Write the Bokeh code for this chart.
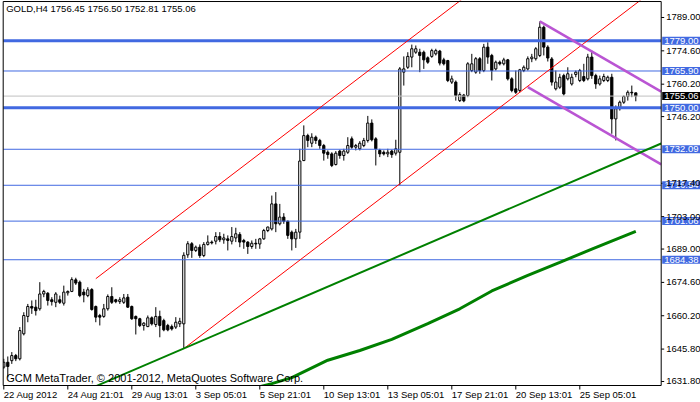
from math import pi
from bokeh.plotting import figure
from bokeh.models import Label, Range1d
from bokeh.core.properties import value
from bokeh.embed import file_html
from bokeh.resources import INLINE

# ---------------- data ----------------
opens = [1638.0, 1640.1, 1640.8, 1643.0, 1641.6, 1652.4, 1659.9, 1664.2, 1663.9, 1663.2,
         1669.6, 1669.9, 1667.1, 1666.0, 1667.1, 1665.6, 1670.1, 1670.7, 1675.7, 1674.7,
         1670.4, 1668.9, 1671.5, 1664.2, 1660.3, 1659.9, 1663.2, 1668.5, 1667.1, 1666.3,
         1666.0, 1668.2, 1664.2, 1659.9, 1658.9, 1656.0, 1655.5, 1659.3, 1656.4, 1659.9,
         1658.1, 1656.0, 1655.5, 1655.3, 1656.7, 1656.7, 1686.5, 1691.3, 1688.4, 1689.8,
         1686.2, 1691.0, 1692.0, 1692.4, 1694.4, 1693.0, 1693.4, 1692.4, 1693.8, 1695.3,
         1692.7, 1692.0, 1690.1, 1691.5, 1691.2, 1693.4, 1697.0, 1697.7, 1708.5, 1699.9,
         1702.8, 1701.0, 1696.3, 1693.4, 1696.3, 1727.2, 1738.0, 1734.7, 1737.3, 1735.9,
         1733.7, 1730.8, 1730.1, 1725.5, 1731.3, 1729.4, 1730.8, 1736.6, 1733.0, 1732.3,
         1733.7, 1735.9, 1743.4, 1736.6, 1731.6, 1730.8, 1730.1, 1731.3, 1730.4, 1730.8,
         1765.4, 1767.5, 1771.9, 1774.0, 1774.0, 1774.0, 1771.6, 1772.2, 1773.3, 1774.5,
         1770.7, 1770.4, 1761.1, 1761.1, 1753.1, 1755.5, 1755.3, 1766.1, 1765.4, 1771.2,
         1766.1, 1776.2, 1772.6, 1766.8, 1769.7, 1769.0, 1770.7, 1762.5, 1758.2, 1757.5,
         1766.1, 1766.8, 1771.2, 1771.2, 1772.6, 1784.8, 1776.2, 1771.1, 1758.2, 1758.9,
         1763.9, 1762.5, 1760.3, 1764.4, 1761.8, 1763.5, 1762.5, 1771.9, 1763.9, 1760.3,
         1761.8, 1761.8, 1763.2, 1745.2, 1749.6, 1752.4, 1754.9, 1756.7, 1756.45]
highs = [1641.6, 1642.6, 1644.5, 1643.7, 1655.3, 1661.7, 1665.3, 1666.8, 1667.1, 1674.7,
         1671.4, 1670.4, 1668.2, 1670.4, 1668.9, 1673.2, 1671.1, 1676.8, 1676.6, 1675.4,
         1671.8, 1672.5, 1672.1, 1664.6, 1661.0, 1665.3, 1669.4, 1672.5, 1667.5, 1668.2,
         1669.6, 1669.6, 1664.6, 1660.3, 1659.3, 1657.4, 1660.3, 1659.9, 1663.9, 1662.4,
         1658.9, 1656.7, 1656.4, 1659.6, 1659.3, 1687.6, 1692.4, 1692.0, 1690.5, 1691.0,
         1692.0, 1694.9, 1692.7, 1696.3, 1696.3, 1695.6, 1694.9, 1698.5, 1698.2, 1696.3,
         1693.4, 1692.4, 1692.7, 1693.4, 1693.8, 1697.7, 1698.7, 1712.1, 1713.6, 1708.5,
         1704.5, 1701.3, 1697.0, 1697.7, 1732.3, 1742.4, 1738.8, 1739.0, 1738.0, 1736.6,
         1734.4, 1731.6, 1730.8, 1731.3, 1731.9, 1732.3, 1737.3, 1737.6, 1734.4, 1735.6,
         1737.0, 1746.5, 1745.0, 1737.3, 1732.3, 1731.6, 1732.3, 1731.9, 1736.2, 1767.6,
         1772.2, 1774.0, 1777.3, 1776.9, 1775.5, 1774.7, 1772.2, 1775.5, 1775.5, 1775.0,
         1771.6, 1770.7, 1763.9, 1761.8, 1756.7, 1756.0, 1769.7, 1773.3, 1771.9, 1771.9,
         1777.6, 1778.3, 1773.3, 1770.4, 1770.4, 1771.6, 1771.1, 1763.2, 1766.1, 1766.8,
         1768.3, 1772.2, 1773.3, 1776.2, 1787.3, 1785.5, 1777.0, 1771.9, 1766.1, 1764.7,
         1764.7, 1767.5, 1764.7, 1766.1, 1766.8, 1769.0, 1773.3, 1774.7, 1764.7, 1763.9,
         1764.7, 1763.9, 1764.7, 1751.0, 1753.1, 1755.3, 1757.5, 1759.6, 1756.50]
lows = [1637.3, 1633.6, 1639.4, 1640.6, 1640.9, 1651.7, 1657.4, 1661.0, 1660.3, 1662.4,
        1668.2, 1664.6, 1664.6, 1663.9, 1665.3, 1664.6, 1668.9, 1670.4, 1673.5, 1668.2,
        1666.0, 1668.2, 1662.4, 1657.4, 1656.0, 1659.3, 1662.4, 1665.3, 1665.6, 1665.3,
        1665.3, 1663.6, 1658.4, 1652.1, 1655.3, 1653.8, 1655.3, 1656.0, 1655.3, 1650.9,
        1653.5, 1653.5, 1653.8, 1654.5, 1655.3, 1646.0, 1685.2, 1685.2, 1687.7, 1685.2,
        1685.5, 1690.5, 1691.0, 1691.0, 1692.0, 1691.3, 1688.4, 1691.0, 1692.0, 1689.8,
        1689.1, 1686.9, 1689.1, 1689.1, 1689.1, 1693.0, 1696.3, 1697.0, 1696.3, 1699.2,
        1699.9, 1693.4, 1688.4, 1689.5, 1693.4, 1727.0, 1733.0, 1733.0, 1734.4, 1732.3,
        1727.2, 1728.0, 1724.4, 1725.1, 1728.0, 1727.2, 1730.1, 1732.3, 1731.6, 1731.6,
        1733.0, 1735.0, 1735.5, 1725.1, 1728.7, 1729.4, 1728.7, 1728.4, 1729.4, 1716.6,
        1759.6, 1766.8, 1767.5, 1773.3, 1765.4, 1766.8, 1769.0, 1771.6, 1772.6, 1768.3,
        1768.3, 1761.1, 1760.3, 1753.1, 1752.5, 1752.4, 1754.6, 1765.4, 1764.7, 1764.7,
        1765.4, 1769.0, 1761.8, 1766.1, 1768.3, 1768.3, 1761.8, 1756.7, 1756.0, 1756.7,
        1765.4, 1766.1, 1769.7, 1770.4, 1771.9, 1772.6, 1770.0, 1759.6, 1757.5, 1758.2,
        1755.3, 1761.8, 1759.6, 1763.2, 1761.1, 1761.1, 1761.8, 1762.5, 1758.2, 1759.6,
        1761.1, 1761.1, 1738.8, 1735.9, 1748.8, 1751.7, 1753.1, 1754.6, 1752.81]
closes = [1640.1, 1638.3, 1643.0, 1641.6, 1653.8, 1660.3, 1664.2, 1663.5, 1662.4, 1669.6,
          1670.7, 1666.8, 1666.3, 1669.6, 1666.0, 1670.4, 1670.7, 1675.8, 1674.3, 1668.9,
          1669.2, 1671.4, 1662.9, 1659.6, 1659.6, 1663.2, 1668.5, 1666.0, 1666.3, 1667.1,
          1667.9, 1663.9, 1658.9, 1658.9, 1656.0, 1657.0, 1659.3, 1656.7, 1659.9, 1656.0,
          1654.1, 1654.1, 1654.5, 1657.4, 1657.8, 1686.3, 1691.3, 1688.4, 1689.8, 1686.2,
          1691.0, 1692.0, 1691.7, 1694.4, 1693.0, 1693.8, 1692.7, 1694.4, 1695.6, 1692.0,
          1692.0, 1690.1, 1691.5, 1691.2, 1693.4, 1697.0, 1698.5, 1708.5, 1699.9, 1702.8,
          1701.0, 1694.9, 1693.4, 1696.3, 1727.0, 1738.0, 1735.9, 1737.3, 1735.9, 1733.7,
          1730.4, 1729.8, 1725.1, 1730.4, 1729.4, 1731.3, 1733.7, 1733.0, 1733.7, 1734.7,
          1735.9, 1743.4, 1736.2, 1732.3, 1730.1, 1730.1, 1730.8, 1729.8, 1732.3, 1766.8,
          1766.8, 1772.2, 1775.5, 1775.5, 1772.6, 1770.7, 1769.7, 1774.7, 1774.7, 1769.3,
          1769.0, 1761.8, 1762.5, 1755.3, 1755.7, 1753.0, 1769.0, 1769.0, 1771.2, 1766.1,
          1776.2, 1771.9, 1766.1, 1769.7, 1769.0, 1770.7, 1762.5, 1757.5, 1756.7, 1766.4,
          1767.5, 1771.2, 1771.9, 1775.5, 1784.8, 1776.2, 1771.5, 1761.1, 1761.1, 1763.2,
          1756.0, 1764.7, 1763.2, 1765.4, 1766.1, 1761.8, 1771.9, 1763.9, 1760.3, 1762.5,
          1763.5, 1763.2, 1745.2, 1749.6, 1752.4, 1754.9, 1756.7, 1756.45, 1755.06]

time_tick_bars = [0, 16, 32, 48, 64, 80, 96, 112, 128, 144]
time_tick_labels = ["22 Aug 2012", "24 Aug 21:01", "29 Aug 13:01", "3 Sep 05:01", "5 Sep 21:01",
                    "10 Sep 13:01", "13 Sep 05:01", "17 Sep 21:01", "20 Sep 13:01", "25 Sep 05:01"]
price_ticks = [1789.00, 1774.60, 1760.20, 1746.20, 1717.40, 1703.00, 1689.00,
               1674.60, 1660.20, 1645.80, 1631.80]

levels_thick = [1779.00, 1750.00]
levels_thin = [1765.90, 1732.09, 1716.54, 1701.06, 1684.38]
bid_price = 1755.06

# moving average (thick green)
ma_bars = [64, 67, 72, 81, 89, 97, 106, 114, 122, 131, 139, 147, 158]
ma_values = [1629.6, 1630.9, 1633.5, 1641.0, 1645.2, 1650.0, 1656.8, 1663.2, 1670.9,
             1677.6, 1683.2, 1689.0, 1696.6]

# drawn objects: anchor bar / price, each ends at the price scale
trend_bars = [20, 164.35]
trend_prices = [1627.5, 1734.6]
red_upper_bars = [23, 164.35]
red_upper_prices = [1676.2, 1862.5]
red_lower_bars = [45, 164.35]
red_lower_prices = [1646.0, 1803.3]
purple_upper_bars = [134, 164.35]
purple_upper_prices = [1787.3, 1757.0]
purple_lower_bars = [131, 164.35]
purple_lower_prices = [1758.9, 1725.6]

title_text = "GOLD,H4  1756.45 1756.50 1752.81 1755.06"
copyright_text = "GCM MetaTrader, \u00a9 2001-2012, MetaQuotes Software Corp."

# ---------------- chart geometry (window = one frame) ----------------
FONT = "Liberation Sans"
XL, XR_AXIS = -0.15, 164.35          # chart box left edge / price-scale line (bars)
YB, YT = 1630.07, 1795.9             # chart box bottom / top (price)
X_MIN, X_MAX = -0.825, 174.175
Y_MIN, Y_MAX = 1622.73, 1796.34
TIME_LABEL_Y = 1626.2

p = figure(width=700, height=402, x_range=Range1d(X_MIN, X_MAX), y_range=Range1d(Y_MIN, Y_MAX),
           output_backend="svg", toolbar_location=None,
           x_axis_location=None, y_axis_location=None,
           min_border_left=0, min_border_right=0, min_border_top=0, min_border_bottom=0,
           background_fill_color="white", border_fill_color="white")
p.xgrid.visible = False
p.ygrid.visible = False
p.outline_line_color = None

n = len(opens)
idx = list(range(n))
bull = [i for i in idx if closes[i] >= opens[i]]
bear = [i for i in idx if closes[i] < opens[i]]

# candles
p.segment(x0=idx, y0=lows, x1=idx, y1=highs, line_color="black", line_width=1)
p.vbar(x=bull, top=[closes[i] for i in bull], bottom=[opens[i] for i in bull], width=0.55,
       fill_color="white", line_color="black", line_width=1)
p.vbar(x=bear, top=[opens[i] for i in bear], bottom=[closes[i] for i in bear], width=0.55,
       fill_color="black", line_color="black", line_width=1)

# horizontal levels (stop at the price scale)
p.segment(x0=[XL] * len(levels_thick), x1=[XR_AXIS] * len(levels_thick), y0=levels_thick,
          y1=levels_thick, line_color="#4169E1", line_width=3)
p.segment(x0=[XL] * len(levels_thin), x1=[XR_AXIS] * len(levels_thin), y0=levels_thin,
          y1=levels_thin, line_color="#4169E1", line_width=1)
p.segment(x0=[XL], x1=[XR_AXIS], y0=[bid_price], y1=[bid_price], line_color="#C0C0C0", line_width=1)

# trend objects
p.line(red_upper_bars, red_upper_prices, line_color="#FF0000", line_width=1)
p.line(red_lower_bars, red_lower_prices, line_color="#FF0000", line_width=1)
p.line(purple_upper_bars, purple_upper_prices, line_color="#BA55D3", line_width=2.5)
p.line(purple_lower_bars, purple_lower_prices, line_color="#BA55D3", line_width=2.5)
p.line(trend_bars, trend_prices, line_color="#008000", line_width=2)
p.line(ma_bars, ma_values, line_color="#008000", line_width=3)

# white out what lies outside the chart box
p.quad(left=[X_MIN], right=[X_MAX], bottom=[Y_MIN], top=[YB], fill_color="white", line_color=None)
p.quad(left=[XR_AXIS], right=[X_MAX], bottom=[Y_MIN], top=[Y_MAX], fill_color="white", line_color=None)
p.quad(left=[X_MIN], right=[X_MAX], bottom=[YT], top=[Y_MAX], fill_color="white", line_color=None)
p.quad(left=[X_MIN], right=[XL], bottom=[Y_MIN], top=[Y_MAX], fill_color="white", line_color=None)

# chart box
p.segment(x0=[XL, XL, XL, XR_AXIS], y0=[YB, YT, YB, YB], x1=[XR_AXIS, XR_AXIS, XL, XR_AXIS],
          y1=[YB, YT, YT, YT], line_color="black", line_width=1)

# time scale
p.ray(x=time_tick_bars, y=[YB] * len(time_tick_bars), length=4, length_units="screen",
      angle=-pi / 2, line_color="black", line_width=1)
p.text(x=time_tick_bars, y=[TIME_LABEL_Y] * len(time_tick_bars), text=time_tick_labels,
       x_offset=0, text_align="left", text_baseline="middle", text_color="black",
       text_font=value(FONT), text_font_size=value("9.5px"))

# price scale: tick marks
p.ray(x=[XR_AXIS] * len(price_ticks), y=price_ticks, length=3, length_units="screen",
      angle=0, line_color="black", line_width=1)

# level boxes on the price scale
box_pad = dict(left=2, right=6, top=1, bottom=1)
for v in levels_thick + levels_thin:
    p.add_layout(Label(x=XR_AXIS, y=v, x_offset=1, text="%.2f" % v, text_font=FONT,
                       text_font_size="9.5px", text_color="white", text_align="left",
                       text_baseline="middle", background_fill_color="#4169E1",
                       background_fill_alpha=1.0, padding=box_pad))
p.add_layout(Label(x=XR_AXIS, y=bid_price, x_offset=1, text="%.2f" % bid_price, text_font=FONT,
                   text_font_size="9.5px", text_color="white", text_align="left",
                   text_baseline="middle", background_fill_color="black",
                   background_fill_alpha=1.0, padding=box_pad))

# price scale labels (drawn above the boxes, as in the terminal)
for v in price_ticks:
    p.add_layout(Label(x=XR_AXIS, y=v, x_offset=5, text="%.2f" % v, text_font=FONT,
                       text_font_size="9.5px", text_color="black", text_align="left",
                       text_baseline="middle"))

# texts
p.add_layout(Label(x=XL, y=YT, x_offset=3, y_offset=-1, text=title_text, text_font=FONT,
                   text_font_size="9.5px", text_color="black", text_align="left",
                   text_baseline="top"))
p.add_layout(Label(x=XL, y=YB, x_offset=3, y_offset=2, text=copyright_text, text_font=FONT,
                   text_font_size="11px", text_color="black", text_align="left",
                   text_baseline="bottom"))

open("out.html", "w").write(file_html(p, INLINE, title="GOLD,H4"))
